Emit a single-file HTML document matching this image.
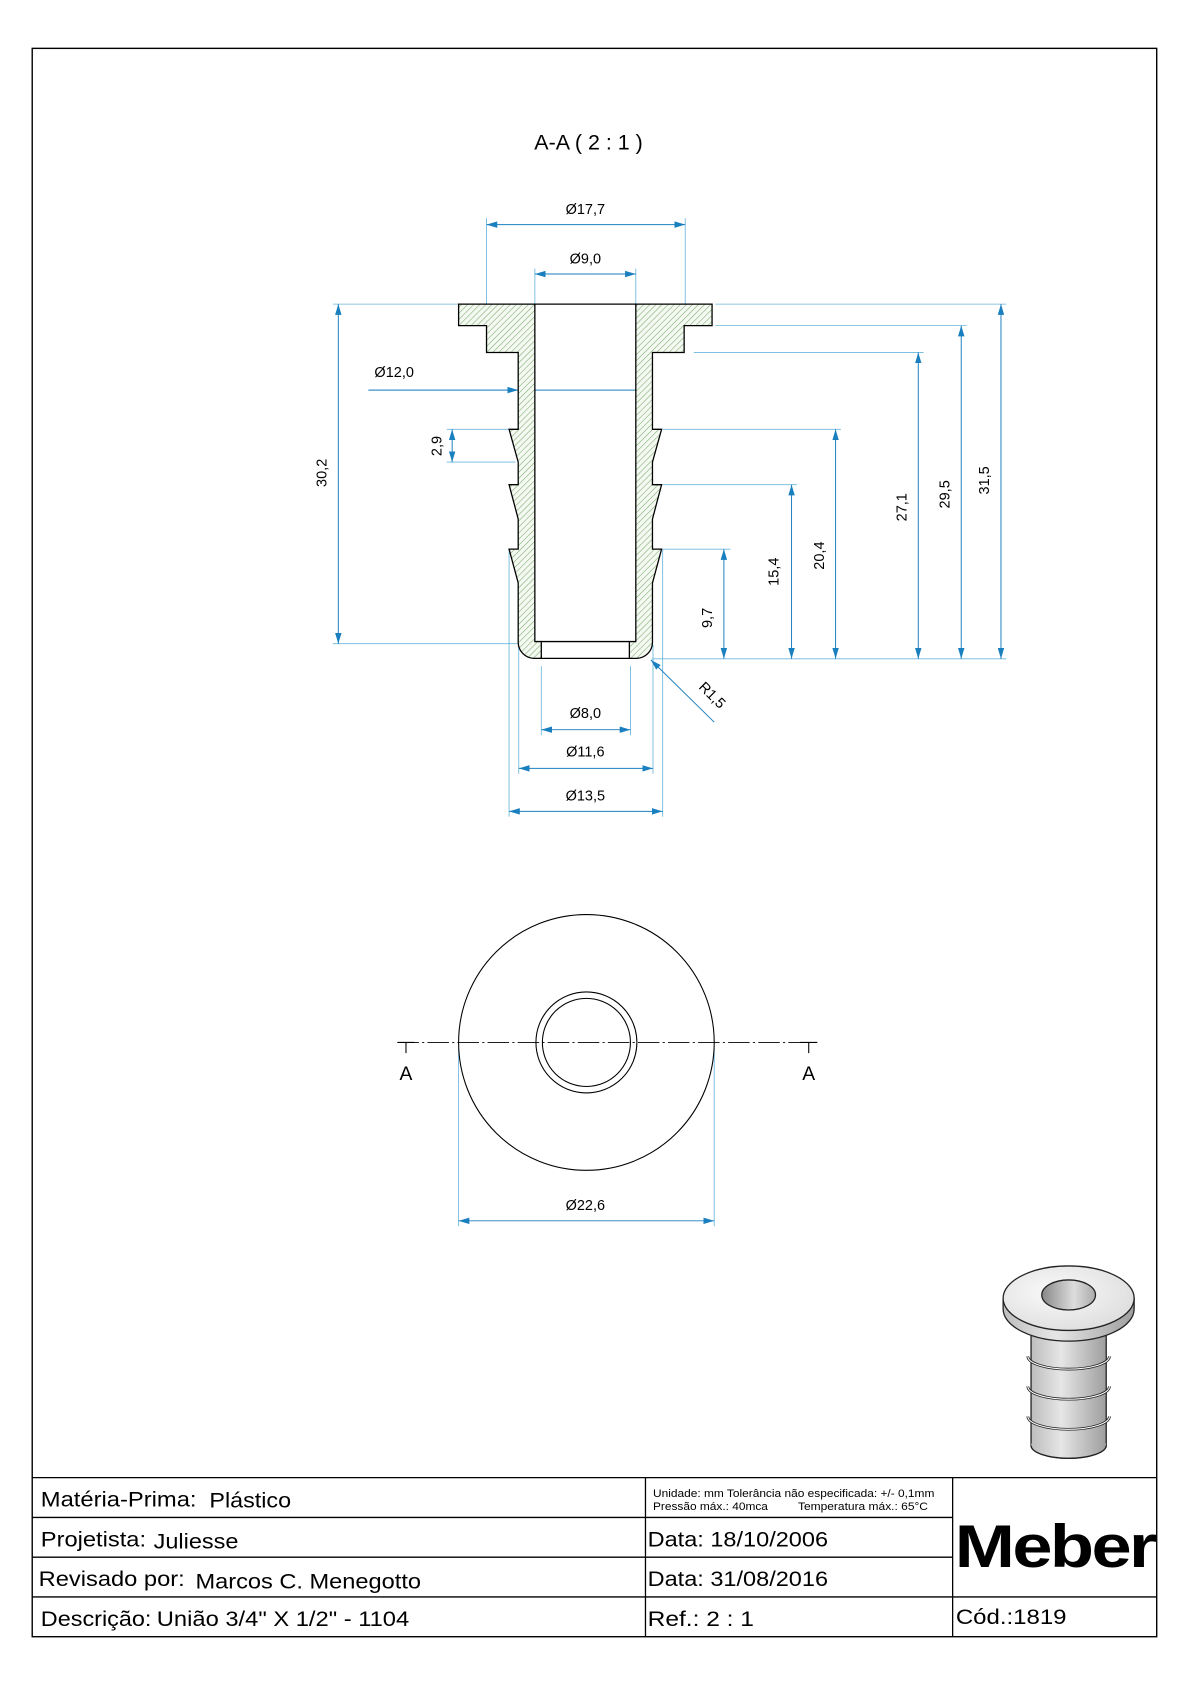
<!DOCTYPE html>
<html><head><meta charset="utf-8"><style>
html,body{margin:0;padding:0;background:#fff;}
svg{display:block;}
text{font-family:"Liberation Sans",sans-serif;}
</style></head><body>
<svg width="1190" height="1684" viewBox="0 0 1108 1567" preserveAspectRatio="none" xmlns="http://www.w3.org/2000/svg">
<defs>
<pattern id="h" width="4" height="4" patternUnits="userSpaceOnUse" patternTransform="rotate(45)">
<rect width="4" height="4" fill="#f4f9f2"/><line x1="0" y1="0" x2="0" y2="4" stroke="#7aa86a" stroke-width="1"/>
</pattern>
<marker id="a" viewBox="0 0 10 6" refX="10" refY="3" markerWidth="10" markerHeight="6" orient="auto-start-reverse" markerUnits="userSpaceOnUse">
<path d="M0,0 L10,3 L0,6 z" fill="#1a7fbf"/></marker>
<radialGradient id="g1" cx="0.4" cy="0.4" r="0.7"><stop offset="0" stop-color="#fafafa"/><stop offset="1" stop-color="#dcdcdc"/></radialGradient>
<linearGradient id="g2" x1="0" x2="1"><stop offset="0" stop-color="#bdbdbd"/><stop offset="0.4" stop-color="#e6e6e6"/><stop offset="1" stop-color="#9e9e9e"/></linearGradient>
<linearGradient id="g3" x1="0" x2="1"><stop offset="0" stop-color="#888"/><stop offset="0.6" stop-color="#ddd"/><stop offset="1" stop-color="#aaa"/></linearGradient>
</defs>
<rect x="30" y="45" width="1047" height="1478" fill="none" stroke="#000" stroke-width="1.3"/>
<text x="548" y="139" font-size="20" text-anchor="middle">A-A ( 2 : 1 )</text>

<g stroke="#6bb6de" stroke-width="0.8" fill="none">
<path d="M453,203V300 M638,203V300 M498,250V283 M592,250V283"/>
<path d="M310,283H427 M310,599H482 M343,363H482"/>
<path d="M416,399.5H474 M416,430H480"/>
<path d="M607,613H937 M617,511H680 M617,451H742 M617,399.5H783 M646,328H860 M666,303H900 M666,283H937"/>
<path d="M504,620V684 M587,620V684 M483,600V720 M608,600V720 M474,511V760 M617,511V760"/>
<path d="M427,975V1141 M665,975V1141"/>
</g>
<g stroke="#1a7fbf" stroke-width="0.9" fill="none">
<path d="M453,209H638" marker-start="url(#a)" marker-end="url(#a)"/>
<path d="M498,255H592" marker-start="url(#a)" marker-end="url(#a)"/>
<path d="M343,363H482.5" marker-end="url(#a)"/>
<path d="M482.5,363H608" marker-end="url(#a)"/>
<path d="M315,283V599" marker-start="url(#a)" marker-end="url(#a)"/>
<path d="M421,399.5V430" marker-start="url(#a)" marker-end="url(#a)"/>
<path d="M674,511V613" marker-start="url(#a)" marker-end="url(#a)"/>
<path d="M737,451V613" marker-start="url(#a)" marker-end="url(#a)"/>
<path d="M778,399.5V613" marker-start="url(#a)" marker-end="url(#a)"/>
<path d="M855,328V613" marker-start="url(#a)" marker-end="url(#a)"/>
<path d="M895,303V613" marker-start="url(#a)" marker-end="url(#a)"/>
<path d="M932,283V613" marker-start="url(#a)" marker-end="url(#a)"/>
<path d="M665,672L606,614" marker-end="url(#a)"/>
<path d="M504,679H587" marker-start="url(#a)" marker-end="url(#a)"/>
<path d="M483,715H608" marker-start="url(#a)" marker-end="url(#a)"/>
<path d="M474,755H617" marker-start="url(#a)" marker-end="url(#a)"/>
<path d="M427,1136H665" marker-start="url(#a)" marker-end="url(#a)"/>
</g>
<g font-size="13.5" text-anchor="middle" fill="#000">
<text x="545" y="199">Ø17,7</text>
<text x="545" y="245">Ø9,0</text>
<text x="367" y="351">Ø12,0</text>
<text transform="translate(304,440) rotate(-90)">30,2</text>
<text transform="translate(411,415) rotate(-90)">2,9</text>
<text transform="translate(663,575) rotate(-90)">9,7</text>
<text transform="translate(725,532) rotate(-90)">15,4</text>
<text transform="translate(767,517) rotate(-90)">20,4</text>
<text transform="translate(844,472) rotate(-90)">27,1</text>
<text transform="translate(884,460) rotate(-90)">29,5</text>
<text transform="translate(921,447) rotate(-90)">31,5</text>
<text transform="translate(660,650) rotate(45)">R1,5</text>
<text x="545" y="668">Ø8,0</text>
<text x="545" y="704">Ø11,6</text>
<text x="545" y="745">Ø13,5</text>
<text x="545" y="1126">Ø22,6</text>
</g>

<g stroke="#000" stroke-width="1.2" fill="url(#h)">
<path d="M427,283H498V597H504V612.6H497A15,15 0 0 1 482.5,598V542.4L474,511H482.5V483L474,451H482.5V430L474,399.5H482.5V328H453V303H427Z"/>
<path d="M663,283H592V597H586V612.6H593A15,15 0 0 0 607.5,598V542.4L616,511H607.5V483L616,451H607.5V430L616,399.5H607.5V328H637V303H663Z"/>
</g>
<g stroke="#000" stroke-width="1.2" fill="none">
<path d="M498,283H592 M504,597H586 M504,612.6H586"/>
</g>

<g stroke="#000" stroke-width="1" fill="none">
<circle cx="546" cy="970" r="119"/>
<circle cx="546" cy="970" r="47"/>
<circle cx="546" cy="970" r="41"/>
<path d="M370,970H760" stroke-dasharray="20,3,2,3" stroke-width="0.8"/>
<path d="M370,970H386 M378,970V980 M745,970H761 M753,970V980"/>
</g>
<text x="378" y="1005" font-size="18" text-anchor="middle">A</text>
<text x="753" y="1005" font-size="18" text-anchor="middle">A</text>

<g stroke="#222" stroke-width="1.2">
<path d="M960,1230V1345A35,12 0 0 0 1030,1345V1230Z" fill="url(#g2)"/>
<ellipse cx="995" cy="1345" rx="35" ry="12" fill="url(#g2)" stroke="none"/>
<path d="M960,1345A35,12 0 0 0 1030,1345" fill="none"/>
<path d="M957,1262A38,12 0 0 0 1033,1262M957,1290A38,12 0 0 0 1033,1290M957,1318A38,12 0 0 0 1033,1318" fill="none" stroke-width="2.5"/>
<path d="M957,1262A38,12 0 0 0 1033,1262M957,1290A38,12 0 0 0 1033,1290M957,1318A38,12 0 0 0 1033,1318" fill="none" stroke="#fff" stroke-width="1"/>
<path d="M934,1208V1218A61,30 0 0 0 1056,1218V1208Z" fill="url(#g2)"/>
<ellipse cx="995" cy="1208" rx="61" ry="30" fill="url(#g1)"/>
<ellipse cx="995" cy="1205" rx="25" ry="14" fill="url(#g3)"/>
</g>

<g stroke="#000" stroke-width="1.2" fill="none">
<path d="M30,1375H1077 M30,1412H887 M30,1449H887 M30,1486H1077 M601,1375V1523 M887,1375V1523"/>
</g>
<g font-size="20" fill="#000">
<text x="38" y="1402" textLength="145" lengthAdjust="spacingAndGlyphs">Matéria-Prima:</text>
<text x="195" y="1403" textLength="76" lengthAdjust="spacingAndGlyphs">Plástico</text>
<text x="38" y="1439" textLength="98" lengthAdjust="spacingAndGlyphs">Projetista:</text>
<text x="143" y="1441" textLength="79" lengthAdjust="spacingAndGlyphs">Juliesse</text>
<text x="36" y="1476" textLength="136" lengthAdjust="spacingAndGlyphs">Revisado por:</text>
<text x="182" y="1478" textLength="210" lengthAdjust="spacingAndGlyphs">Marcos C. Menegotto</text>
<text x="38" y="1513" textLength="103" lengthAdjust="spacingAndGlyphs">Descrição:</text>
<text x="146" y="1513" textLength="235" lengthAdjust="spacingAndGlyphs">União 3/4" X 1/2" - 1104</text>
<text x="603" y="1439" textLength="168" lengthAdjust="spacingAndGlyphs">Data: 18/10/2006</text>
<text x="603" y="1476" textLength="168" lengthAdjust="spacingAndGlyphs">Data: 31/08/2016</text>
<text x="603" y="1513" textLength="99" lengthAdjust="spacingAndGlyphs">Ref.:  2 : 1</text>
<text x="890" y="1511" textLength="103" lengthAdjust="spacingAndGlyphs">Cód.:1819</text>
</g>
<g font-size="10">
<text x="608" y="1393" textLength="262" lengthAdjust="spacingAndGlyphs">Unidade: mm Tolerância não especificada: +/- 0,1mm</text>
<text x="608" y="1405" textLength="107" lengthAdjust="spacingAndGlyphs">Pressão máx.: 40mca</text>
<text x="743" y="1405" textLength="121" lengthAdjust="spacingAndGlyphs">Temperatura máx.: 65°C</text>
</g>
<text x="889" y="1458" font-size="56" font-weight="bold" textLength="186" lengthAdjust="spacingAndGlyphs" letter-spacing="-2">Meber</text>
</svg>
</body></html>
